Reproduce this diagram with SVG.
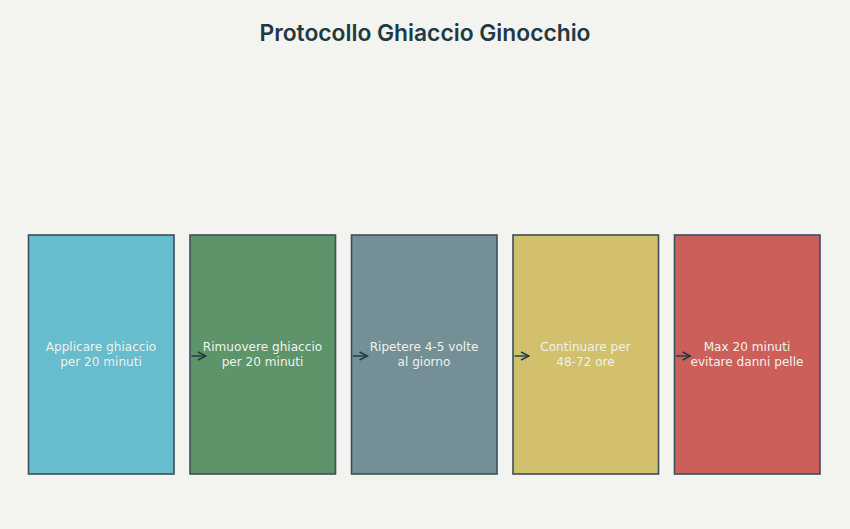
<svg xmlns="http://www.w3.org/2000/svg" width="850" height="529" viewBox="0 0 850 529">
<defs>
<style>
.box{stroke:#3b4f5c;stroke-width:1.6}
.lbl{font-family:"DejaVu Sans",sans-serif;font-size:12.1px;fill:#eef2ee;text-anchor:middle}
.title{font-family:Inter,"Liberation Sans",sans-serif;font-size:22.8px;font-weight:600;fill:#1f3a44;text-anchor:middle}
.conn{stroke:#1f3a44;stroke-width:1.4;fill:none}
</style>
<marker id="ah" viewBox="0 0 10 10" refX="9" refY="5" markerWidth="10" markerHeight="10" markerUnits="userSpaceOnUse" orient="auto">
<path d="M1,1 L9,5 L1,9" fill="none" stroke="#1f3a44" stroke-width="1.4"/>
</marker>
</defs>
<rect width="850" height="529" fill="#f3f3ef"/>
<text class="title" x="425" y="41">Protocollo Ghiaccio Ginocchio</text>
<g id="n1"><rect class="box" x="28.5" y="235" width="145.5" height="239" fill="#67bccd"/>
<text class="lbl" x="101" y="351">Applicare ghiaccio</text><text class="lbl" x="101" y="366">per 20 minuti</text></g>
<g id="n2"><rect class="box" x="190" y="235" width="145.5" height="239" fill="#5d9469"/>
<text class="lbl" x="262.5" y="351">Rimuovere ghiaccio</text><text class="lbl" x="262.5" y="366">per 20 minuti</text></g>
<g id="n3"><rect class="box" x="351.5" y="235" width="145.5" height="239" fill="#748f95"/>
<text class="lbl" x="424" y="351">Ripetere 4-5 volte</text><text class="lbl" x="424" y="366">al giorno</text></g>
<g id="n4"><rect class="box" x="513" y="235" width="145.5" height="239" fill="#d2c06c"/>
<text class="lbl" x="585.5" y="351">Continuare per</text><text class="lbl" x="585.5" y="366">48-72 ore</text></g>
<g id="n5"><rect class="box" x="674.5" y="235" width="145.5" height="239" fill="#cd5f5a"/>
<text class="lbl" x="747" y="351">Max 20 minuti</text><text class="lbl" x="747" y="366">evitare danni pelle</text></g>
<g id="connectors">
<line class="conn" x1="191.5" y1="356" x2="206" y2="356" marker-end="url(#ah)"/>
<line class="conn" x1="353" y1="356" x2="367.5" y2="356" marker-end="url(#ah)"/>
<line class="conn" x1="514.5" y1="356" x2="529" y2="356" marker-end="url(#ah)"/>
<line class="conn" x1="676" y1="356" x2="690.5" y2="356" marker-end="url(#ah)"/>
</g>
</svg>
